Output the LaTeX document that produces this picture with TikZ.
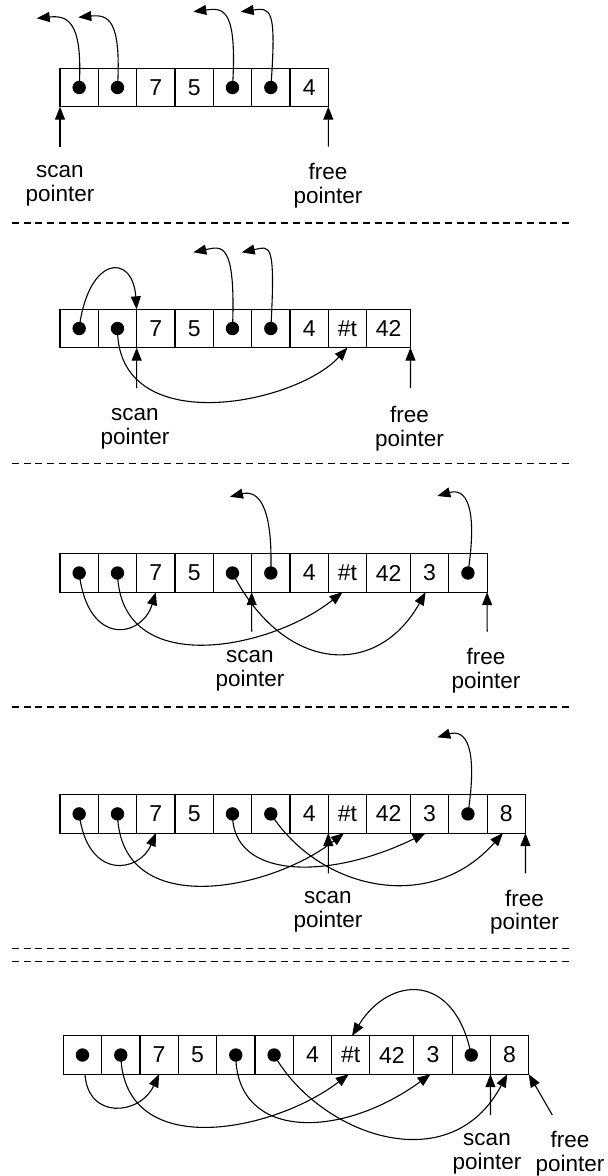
\documentclass[tikz,border=0pt]{standalone}
\usepackage{fontspec}
\setmainfont{Liberation Sans}
\usetikzlibrary{arrows.meta}
\tikzset{
  cell/.style={draw, line width=1.1pt, minimum width=38.33pt, minimum height=38.33pt,
    inner sep=0pt, outer sep=0pt, anchor=west, font=\fontsize{23pt}{23.4pt}\selectfont},
  wide/.style={cell, minimum width=43.8pt},
  dotn/.style={circle, fill=black, minimum size=13.4pt, inner sep=0pt},
  ptr/.style={-{Triangle[length=13pt,width=10pt]}, line width=1.1pt},
  lbl/.style={align=center, inner sep=0pt, font=\fontsize{22.5pt}{23.6pt}\selectfont},
  sep/.style={line width=1.1pt, dash pattern=on 7pt off 4.7pt}
}
\begin{document}
\begin{tikzpicture}[x=1pt,y=-1pt]
\useasboundingbox (0,0) rectangle (608,1176);

% ---------- separators ----------
\draw[sep] (12,223) -- (572,223);
\draw[sep] (12,463.3) -- (572,463.3);
\draw[sep] (12,707) -- (572,707);
\draw[sep] (12,948.3) -- (572,948.3);
\draw[sep] (12,961.7) -- (572,961.7);

% ---------- row 1 ----------
\node[cell] (a1) at (60,87.5) {};
\node[cell] (a2) at (a1.east) {};
\node[cell] (a3) at (a2.east) {7};
\node[cell] (a4) at (a3.east) {5};
\node[cell] (a5) at (a4.east) {};
\node[cell] (a6) at (a5.east) {};
\node[cell] (a7) at (a6.east) {4};
\node[dotn] (ap1) at (a1) {};
\node[dotn] (ap2) at (a2) {};
\node[dotn] (ap5) at (a5) {};
\node[dotn] (ap6) at (a6) {};
\coordinate (ta1) at (36.7,18.3);
\coordinate (ta2) at (78.3,17.3);
\coordinate (ta5) at (193.3,11.7);
\coordinate (ta6) at (240.7,11.7);
\draw[ptr] (ap1.center) .. controls +(4,-68) and +(30,-3) .. (ta1);
\draw[ptr] (ap2.center) .. controls +(4,-68) and +(30,-3) .. (ta2);
\draw[ptr] (ap5.center) .. controls +(5,-80) and +(30,-4) .. (ta5);
\draw[ptr] (ap6.center) .. controls +(6,-80) and +(30,-4) .. (ta6);
\node[lbl] (sa) at (60,185.5) {scan\\pointer};
\node[lbl] (fa) at (328,185.5) {free\\pointer};
\coordinate (sa0) at (60,146.7);
\coordinate (fa0) at (328.3,146.7);
\draw[ptr] (sa0) -- (a1.south west);
\draw[ptr] (fa0) -- (a7.south east);

% ---------- row 2 ----------
\node[cell] (b1) at (60,328.5) {};
\node[cell] (b2) at (b1.east) {};
\node[cell] (b3) at (b2.east) {7};
\node[cell] (b4) at (b3.east) {5};
\node[cell] (b5) at (b4.east) {};
\node[cell] (b6) at (b5.east) {};
\node[cell] (b7) at (b6.east) {4};
\node[cell] (b8) at (b7.east) {\#t};
\node[wide] (b9) at (b8.east) {42};
\node[dotn] (bp1) at (b1) {};
\node[dotn] (bp2) at (b2) {};
\node[dotn] (bp5) at (b5) {};
\node[dotn] (bp6) at (b6) {};
\coordinate (tb5) at (193.3,252.3);
\coordinate (tb6) at (241.7,252.3);
\draw[ptr] (bp1.center) .. controls +(9,-73) and +(-4,-57) .. (b2.north east);
\draw[ptr] (bp2.center) .. controls +(-0.5,111.5) and +(-52.5,57.3) .. (b8.south);
\draw[ptr] (bp5.center) .. controls +(3.5,-88.5) and +(28,-6) .. (tb5);
\draw[ptr] (bp6.center) .. controls +(5,-88.5) and +(28,-6) .. (tb6);
\node[lbl] (sb) at (135,428.7) {scan\\pointer};
\node[lbl] (fb) at (409.5,428.7) {free\\pointer};
\coordinate (sb0) at (136.7,388);
\coordinate (fb0) at (410.5,388);
\draw[ptr] (sb0) -- (b2.south east);
\draw[ptr] (fb0) -- (b9.south east);

% ---------- row 3 ----------
\node[cell] (c1) at (60,573) {};
\node[cell] (c2) at (c1.east) {};
\node[cell] (c3) at (c2.east) {7};
\node[cell] (c4) at (c3.east) {5};
\node[cell] (c5) at (c4.east) {};
\node[cell] (c6) at (c5.east) {};
\node[cell] (c7) at (c6.east) {4};
\node[cell] (c8) at (c7.east) {\#t};
\node[wide] (c9) at (c8.east) {42};
\node[cell] (c10) at (c9.east) {3};
\node[cell] (c11) at (c10.east) {};
\node[dotn] (cp1) at (c1) {};
\node[dotn] (cp2) at (c2) {};
\node[dotn] (cp5) at (c5) {};
\node[dotn] (cp6) at (c6) {};
\node[dotn] (cp11) at (c11) {};
\coordinate (tc6) at (230,496.7);
\coordinate (tc11) at (437.3,496);
\draw[ptr] (cp1.center) .. controls +(8.8,74.7) and +(-13.8,45.7) .. (c3.south);
\draw[ptr] (cp2.center) .. controls +(2.5,106.7) and +(-72.5,57.7) .. ([xshift=-5pt]c8.south);
\draw[ptr] (cp5.center) .. controls +(52.5,101.7) and +(-47.7,85.7) .. ([xshift=-4pt]c10.south);
\draw[ptr] (cp6.center) .. controls +(2.2,-68.3) and +(28,-6.7) .. (tc6);
\draw[ptr] (cp11.center) .. controls +(10.3,-68.3) and +(28,-8) .. (tc11);
\node[lbl] (sc) at (250,670.8) {scan\\pointer};
\node[lbl] (fc) at (486,670.8) {free\\pointer};
\coordinate (sc0) at (251.7,631.7);
\coordinate (fc0) at (487.2,631.7);
\draw[ptr] (sc0) -- (c5.south east);
\draw[ptr] (fc0) -- (c11.south east);

% ---------- row 4 ----------
\node[cell] (d1) at (60,813.9) {};
\node[cell] (d2) at (d1.east) {};
\node[cell] (d3) at (d2.east) {7};
\node[cell] (d4) at (d3.east) {5};
\node[cell] (d5) at (d4.east) {};
\node[cell] (d6) at (d5.east) {};
\node[cell] (d7) at (d6.east) {4};
\node[cell] (d8) at (d7.east) {\#t};
\node[wide] (d9) at (d8.east) {42};
\node[cell] (d10) at (d9.east) {3};
\node[cell] (d11) at (d10.east) {};
\node[cell] (d12) at (d11.east) {8};
\node[dotn] (dp1) at (d1) {};
\node[dotn] (dp2) at (d2) {};
\node[dotn] (dp5) at (d5) {};
\node[dotn] (dp6) at (d6) {};
\node[dotn] (dp11) at (d11) {};
\coordinate (td11) at (437.3,737.3);
\draw[ptr] (dp1.center) .. controls +(8.8,68) and +(-15.8,39) .. (d3.south);
\draw[ptr] (dp2.center) .. controls +(2.5,107) and +(-74,58) .. ([xshift=-3.5pt]d8.south);
\draw[ptr] (dp5.center) .. controls +(-0.5,66) and +(-95.7,47) .. ([xshift=-4pt]d10.south);
\draw[ptr] (dp6.center) .. controls +(49.2,76) and +(-72.3,82) .. ([xshift=-3.4pt]d12.south);
\draw[ptr] (dp11.center) .. controls +(10.3,-68.3) and +(28,-8) .. (td11);
\node[lbl] (sd) at (328,912) {scan\\pointer};
\node[lbl] (fd) at (524.5,912) {free\\pointer};
\coordinate (sd0) at (328.3,873.3);
\coordinate (fd0) at (525.5,873.3);
\draw[ptr] (sd0) -- (d7.south east);
\draw[ptr] (fd0) -- (d12.south east);

% ---------- row 5 ----------
\node[cell] (e1) at (63.3,1055) {};
\node[cell] (e2) at (e1.east) {};
\node[cell] (e3) at (e2.east) {7};
\node[cell] (e4) at (e3.east) {5};
\node[cell] (e5) at (e4.east) {};
\node[cell] (e6) at (e5.east) {};
\node[cell] (e7) at (e6.east) {4};
\node[cell] (e8) at (e7.east) {\#t};
\node[wide] (e9) at (e8.east) {42};
\node[cell] (e10) at (e9.east) {3};
\node[cell] (e11) at (e10.east) {};
\node[cell] (e12) at (e11.east) {8};
\node[dotn] (ep1) at (e1) {};
\node[dotn] (ep2) at (e2) {};
\node[dotn] (ep5) at (e5) {};
\node[dotn] (ep6) at (e6) {};
\node[dotn] (ep11) at (e11) {};
\draw[ptr] ([xshift=2.5pt]e1.south) .. controls +(3,46) and +(-19.2,41) .. (e3.south);
\draw[ptr] (ep2.center) .. controls +(2.5,107) and +(-75.7,58) .. ([xshift=-2pt]e8.south);
\draw[ptr] (ep5.center) .. controls +(0,85) and +(-90.7,66) .. ([xshift=-2.3pt]e10.south);
\draw[ptr] (ep6.center) .. controls +(45.8,80) and +(-57.3,108) .. ([xshift=-2.3pt]e12.south);
\draw[ptr] (ep11.center) .. controls +(-16.3,-83) and +(37.7,-61) .. ([xshift=1.3pt]e8.north);
\node[lbl] (se) at (487,1153.5) {scan\\pointer};
\node[lbl] (fe) at (570,1153.5) {free\\pointer};
\coordinate (se0) at (490.5,1115);
\coordinate (fe0) at (552.3,1115);
\draw[ptr] (se0) -- (e11.south east);
\draw[ptr] (fe0) -- (e12.south east);
\end{tikzpicture}
\end{document}
